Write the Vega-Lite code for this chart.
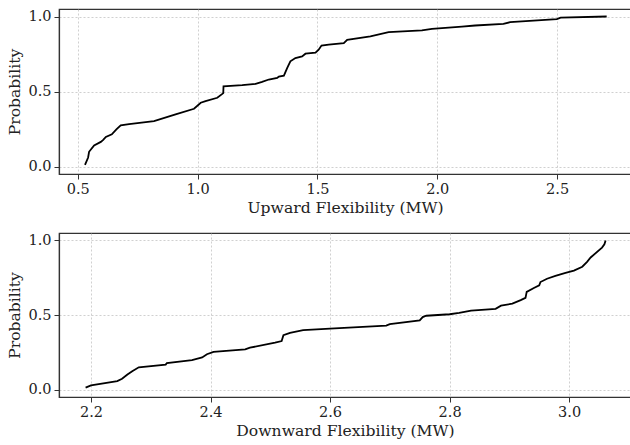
{
  "$schema": "https://vega.github.io/schema/vega-lite/v6.json",
  "padding": {"left": 7, "top": 7, "right": 0, "bottom": 5},
  "datasets": {
    "up": [
      {"x": 0.530, "p": 0.011}, {"x": 0.543, "p": 0.06}, {"x": 0.547, "p": 0.098}, {"x": 0.568, "p": 0.14},
      {"x": 0.596, "p": 0.164}, {"x": 0.606, "p": 0.177}, {"x": 0.617, "p": 0.197}, {"x": 0.642, "p": 0.215},
      {"x": 0.661, "p": 0.248}, {"x": 0.679, "p": 0.275}, {"x": 0.714, "p": 0.283}, {"x": 0.818, "p": 0.303},
      {"x": 0.908, "p": 0.348}, {"x": 0.985, "p": 0.385}, {"x": 1.013, "p": 0.425}, {"x": 1.033, "p": 0.436},
      {"x": 1.082, "p": 0.458}, {"x": 1.103, "p": 0.484}, {"x": 1.107, "p": 0.49}, {"x": 1.108, "p": 0.535},
      {"x": 1.186, "p": 0.542}, {"x": 1.242, "p": 0.551}, {"x": 1.269, "p": 0.564}, {"x": 1.297, "p": 0.58},
      {"x": 1.332, "p": 0.59}, {"x": 1.339, "p": 0.6}, {"x": 1.36, "p": 0.606}, {"x": 1.374, "p": 0.657},
      {"x": 1.387, "p": 0.701}, {"x": 1.408, "p": 0.723}, {"x": 1.436, "p": 0.734}, {"x": 1.45, "p": 0.752},
      {"x": 1.492, "p": 0.759}, {"x": 1.505, "p": 0.779}, {"x": 1.517, "p": 0.806}, {"x": 1.547, "p": 0.812},
      {"x": 1.61, "p": 0.823}, {"x": 1.624, "p": 0.845}, {"x": 1.721, "p": 0.867}, {"x": 1.797, "p": 0.896},
      {"x": 1.936, "p": 0.907}, {"x": 1.978, "p": 0.918}, {"x": 2.103, "p": 0.932}, {"x": 2.158, "p": 0.94},
      {"x": 2.276, "p": 0.951}, {"x": 2.304, "p": 0.962}, {"x": 2.499, "p": 0.983}, {"x": 2.515, "p": 0.993},
      {"x": 2.707, "p": 1.0}
    ],
    "down": [
      {"x": 2.191, "p": 0.013}, {"x": 2.2, "p": 0.028}, {"x": 2.244, "p": 0.057}, {"x": 2.252, "p": 0.072},
      {"x": 2.261, "p": 0.101}, {"x": 2.269, "p": 0.123}, {"x": 2.28, "p": 0.149}, {"x": 2.325, "p": 0.167},
      {"x": 2.327, "p": 0.178}, {"x": 2.369, "p": 0.198}, {"x": 2.386, "p": 0.215}, {"x": 2.394, "p": 0.237},
      {"x": 2.405, "p": 0.253}, {"x": 2.458, "p": 0.27}, {"x": 2.466, "p": 0.281}, {"x": 2.508, "p": 0.314},
      {"x": 2.519, "p": 0.325}, {"x": 2.522, "p": 0.365}, {"x": 2.533, "p": 0.38}, {"x": 2.555, "p": 0.398},
      {"x": 2.6, "p": 0.409}, {"x": 2.694, "p": 0.429}, {"x": 2.7, "p": 0.439}, {"x": 2.75, "p": 0.464},
      {"x": 2.755, "p": 0.486}, {"x": 2.761, "p": 0.495}, {"x": 2.8, "p": 0.505}, {"x": 2.816, "p": 0.514},
      {"x": 2.836, "p": 0.53}, {"x": 2.877, "p": 0.541}, {"x": 2.886, "p": 0.563}, {"x": 2.905, "p": 0.576},
      {"x": 2.919, "p": 0.6}, {"x": 2.927, "p": 0.615}, {"x": 2.929, "p": 0.655}, {"x": 2.941, "p": 0.681},
      {"x": 2.95, "p": 0.699}, {"x": 2.952, "p": 0.721}, {"x": 2.963, "p": 0.743}, {"x": 2.977, "p": 0.763},
      {"x": 2.994, "p": 0.782}, {"x": 3.008, "p": 0.798}, {"x": 3.022, "p": 0.824}, {"x": 3.03, "p": 0.857},
      {"x": 3.036, "p": 0.886}, {"x": 3.055, "p": 0.952}, {"x": 3.059, "p": 0.974}, {"x": 3.061, "p": 1.0}
    ]
  },
  "spacing": 14,
  "vconcat": [
    {
      "width": 572,
      "height": 165,
      "data": {"name": "up"},
      "mark": {"type": "line", "color": "#000000", "strokeWidth": 1.8},
      "encoding": {
        "x": {"field": "x", "type": "quantitative", "title": "Upward Flexibility (MW)",
              "scale": {"domain": [0.4215, 2.8085], "nice": false, "zero": false},
              "axis": {"values": [0.5, 1.0, 1.5, 2.0, 2.5], "format": ".1f"}},
        "y": {"field": "p", "type": "quantitative", "title": "Probability",
              "scale": {"domain": [-0.05, 1.05], "nice": false, "zero": false},
              "axis": {"values": [0, 0.5, 1.0], "format": ".1f"}}
      }
    },
    {
      "width": 572,
      "height": 164,
      "data": {"name": "down"},
      "mark": {"type": "line", "color": "#000000", "strokeWidth": 1.8},
      "encoding": {
        "x": {"field": "x", "type": "quantitative", "title": "Downward Flexibility (MW)",
              "scale": {"domain": [2.1465, 3.1035], "nice": false, "zero": false},
              "axis": {"values": [2.2, 2.4, 2.6, 2.8, 3.0], "format": ".1f"}},
        "y": {"field": "p", "type": "quantitative", "title": "Probability",
              "scale": {"domain": [-0.05, 1.05], "nice": false, "zero": false},
              "axis": {"values": [0, 0.5, 1.0], "format": ".1f"}}
      }
    }
  ],
  "config": {
    "font": "DejaVu Serif",
    "view": {"stroke": "#333333", "strokeWidth": 1.2},
    "axis": {
      "labelFont": "DejaVu Serif",
      "titleFont": "DejaVu Serif",
      "labelFontSize": 14.5,
      "titleFontSize": 15.6,
      "titleFontWeight": "normal",
      "labelColor": "#222222",
      "titleColor": "#222222",
      "domainColor": "#333333",
      "domainWidth": 1.2,
      "tickColor": "#333333",
      "tickSize": 5,
      "tickWidth": 1,
      "labelPadding": 3,
      "titlePadding": 5,
      "gridColor": "#bbbbbb",
      "gridDash": [2, 2],
      "gridWidth": 0.7
    }
  }
}
